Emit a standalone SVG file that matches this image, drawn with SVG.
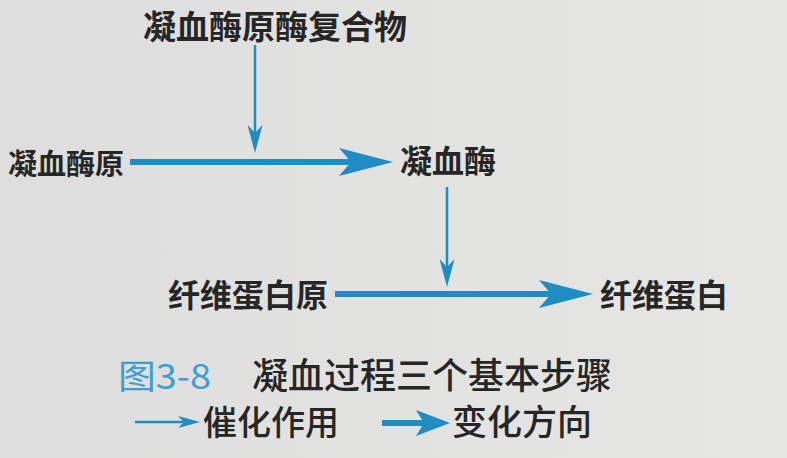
<svg xmlns="http://www.w3.org/2000/svg" width="787" height="458" viewBox="0 0 787 458">
  <style>
    .node { font-family: "Noto Sans CJK SC", "Noto Sans", sans-serif; font-weight: 700; fill: #262626; }
    .cap { font-family: "Noto Sans CJK SC", "Noto Sans", sans-serif; font-weight: 500; fill: #262626; }
    .blue { fill: #3a9fd2; font-weight: 400; }
    .thick { stroke: #1f8cc3; stroke-width: 6; fill: none; }
    .thin { stroke: #1f8cc3; stroke-width: 2.5; fill: none; }
  </style>
  <defs>
    <linearGradient id="bg" x1="0" y1="0" x2="1" y2="0">
      <stop offset="0" stop-color="#dedede"/>
      <stop offset="1" stop-color="#e6e6e4"/>
    </linearGradient>
    <marker id="headThick" markerUnits="userSpaceOnUse" viewBox="0 0 54 28" markerWidth="54" markerHeight="28" refX="16" refY="14" orient="auto">
      <path d="M0,0 L54,14 L0,28 L12,14 Z" fill="#1f8cc3"/>
    </marker>
    <marker id="headThickSmall" markerUnits="userSpaceOnUse" viewBox="0 0 34 26" markerWidth="34" markerHeight="26" refX="10" refY="13" orient="auto">
      <path d="M0,0 L34,13 L0,26 L8,13 Z" fill="#1f8cc3"/>
    </marker>
    <marker id="headThin" markerUnits="userSpaceOnUse" viewBox="0 0 28 15" markerWidth="28" markerHeight="15" refX="10" refY="7.5" orient="auto">
      <path d="M0,0 L28,7.5 L0,15 L8,7.5 Z" fill="#1f8cc3"/>
    </marker>
    <marker id="headThinSmall" markerUnits="userSpaceOnUse" viewBox="0 0 22 12" markerWidth="22" markerHeight="12" refX="8" refY="6" orient="auto">
      <path d="M0,0 L22,6 L0,12 L6,6 Z" fill="#1f8cc3"/>
    </marker>
  </defs>
  <rect width="787" height="458" fill="url(#bg)"/>

  <g id="connectors">
    <line class="thin" x1="255" y1="45" x2="255" y2="135" marker-end="url(#headThin)"/>
    <line class="thick" x1="130" y1="162" x2="355" y2="162" marker-end="url(#headThick)"/>
    <line class="thin" x1="447" y1="187" x2="447" y2="269" marker-end="url(#headThin)"/>
    <line class="thick" x1="335" y1="294" x2="555" y2="294" marker-end="url(#headThick)"/>
  </g>

  <g id="node-complex"><text class="node" x="143" y="39" font-size="33">凝血酶原酶复合物</text></g>
  <g id="node-prothrombin"><text class="node" x="8" y="175" font-size="29">凝血酶原</text></g>
  <g id="node-thrombin"><text class="node" x="400" y="173" font-size="32">凝血酶</text></g>
  <g id="node-fibrinogen"><text class="node" x="168" y="307" font-size="32">纤维蛋白原</text></g>
  <g id="node-fibrin"><text class="node" x="600" y="307" font-size="32">纤维蛋白</text></g>

  <g id="caption">
    <text class="cap blue" x="118" y="389" font-size="34" textLength="93" lengthAdjust="spacingAndGlyphs">图3-8</text>
    <text class="cap" x="252" y="389" font-size="36">凝血过程三个基本步骤</text>
  </g>

  <g id="legend">
    <line class="thin" x1="135" y1="422" x2="186" y2="422" marker-end="url(#headThinSmall)"/>
    <text class="cap" x="203" y="435" font-size="34">催化作用</text>
    <line class="thick" x1="382" y1="423" x2="426" y2="423" marker-end="url(#headThickSmall)"/>
    <text class="cap" x="452" y="435" font-size="35">变化方向</text>
  </g>
</svg>
